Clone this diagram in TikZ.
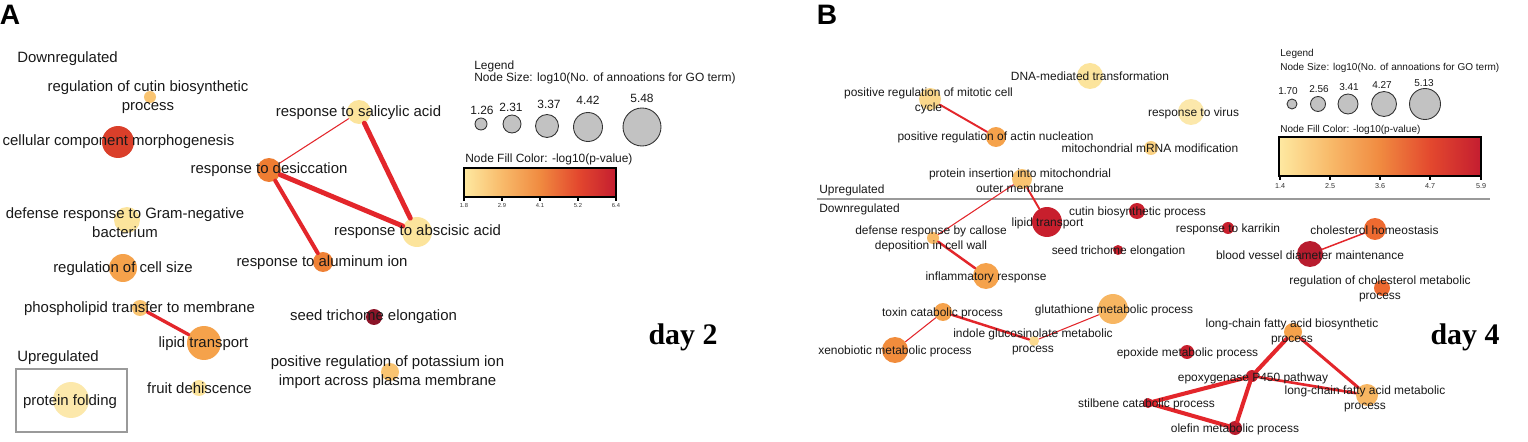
\documentclass[tikz,border=0pt]{standalone}
\usepackage{fontspec}
\newfontfamily\arialf{Liberation Sans}
\newfontfamily\seriff{Liberation Serif}
\newcommand\fontA{\arialf\fontsize{8.5}{10.8}\selectfont}
\newcommand\fontB{\arialf\fontsize{6.8}{8.5}\selectfont}
\newcommand\fontLA{\arialf\fontsize{6.8}{8}\selectfont}
\newcommand\fontLB{\arialf\fontsize{5.7}{7}\selectfont}
\newcommand\fontTA{\arialf\fontsize{3.3}{4}\selectfont}
\newcommand\fontTB{\arialf\fontsize{4.1}{5}\selectfont}
\definecolor{cyl}{HTML}{FCE49C}
\definecolor{clo}{HTML}{F9C471}
\definecolor{cor}{HTML}{F5A24B}
\definecolor{cdo}{HTML}{EE7D32}
\definecolor{crr}{HTML}{DA3F2A}
\definecolor{crd}{HTML}{C81F2D}
\definecolor{cdr}{HTML}{8B1428}
\definecolor{cbv}{HTML}{B81C2E}
\definecolor{cho}{HTML}{EE6A30}
\definecolor{cedge}{HTML}{E3262B}
\definecolor{cgrey}{HTML}{C2C2C2}
\definecolor{cframe}{HTML}{9A9A9A}
\definecolor{g0}{HTML}{FEE9A1}
\definecolor{g1}{HTML}{F8BA6A}
\definecolor{g2}{HTML}{F08A40}
\definecolor{g3}{HTML}{E3482E}
\definecolor{g4}{HTML}{C41D30}
\tikzset{
  gn/.style={circle, inner sep=0pt, draw=none},
  lgc/.style={circle, inner sep=0pt, draw=black!80, line width=0.5pt, fill=cgrey},
  lblA/.style={inner sep=0pt, font=\fontA, align=center, text=black!90},
  lblB/.style={inner sep=0pt, font=\fontB, align=center, text=black!90},
  legA/.style={inner sep=0pt, font=\fontLA, text=black!90},
  legB/.style={inner sep=0pt, font=\fontLB, text=black!90},
  tickA/.style={inner sep=0pt, font=\fontTA, text=black!80},
  tickB/.style={inner sep=0pt, font=\fontTB, text=black!80},
  edge/.style={draw=cedge, line cap=round},
  panel/.style={inner sep=0pt, font=\arialf\bfseries\fontsize{16}{18}\selectfont},
  daylbl/.style={inner sep=0pt, font=\seriff\bfseries\fontsize{17}{19}\selectfont},
  grp/.style={inner sep=0pt, font=\fontA, anchor=west, text=black!90},
  grpB/.style={inner sep=0pt, font=\fontB, anchor=west, text=black!90}
}
\begin{document}
\begin{tikzpicture}[x=0.02cm, y=-0.02cm]
\useasboundingbox (0,0) rectangle (1528,442);
\fill[white] (0,0) rectangle (1528,442);

% ================= Panel A =================
\node[panel] (A) at (10,15) {A};
\node[grp] (downA) at (17,59) {Downregulated};
\node[grp] (upA) at (17,358) {Upregulated};
\draw[cframe, line width=0.9pt] (16,369) rectangle (127,432);
\node[daylbl] (day2) at (683,337) {day 2};

% circles
\node[gn, fill=clo, minimum size=0.24cm] (a-cut) at (150,97) {};
\node[gn, fill=crr, minimum size=0.64cm] (a-ccm) at (118,142) {};
\node[gn, fill=cyl, minimum size=0.48cm] (a-sal) at (359,112) {};
\node[gn, fill=cdo, minimum size=0.48cm] (a-des) at (269,170) {};
\node[gn, fill=cyl, minimum size=0.60cm] (a-aba) at (417,232) {};
\node[gn, fill=cdo!90!cor, minimum size=0.40cm] (a-alu) at (323,262) {};
\node[gn, fill=cyl, minimum size=0.52cm] (a-gram) at (127,220) {};
\node[gn, fill=cor, minimum size=0.56cm] (a-size) at (123,268) {};
\node[gn, fill=clo, minimum size=0.32cm] (a-phos) at (140,308) {};
\node[gn, fill=cor, minimum size=0.68cm] (a-lip) at (204,343) {};
\node[gn, fill=cyl, minimum size=0.32cm] (a-fruit) at (199,388) {};
\node[gn, fill=cdr, minimum size=0.32cm] (a-seed) at (374,317) {};
\node[gn, fill=clo, minimum size=0.36cm] (a-pot) at (390,372) {};
\node[gn, fill=cyl!85!white, minimum size=0.72cm] (a-pf) at (71,400) {};

% edges
\draw[edge, line width=0.6pt] (a-sal) -- (a-des);
\draw[edge, line width=2.8pt] (a-sal) -- (a-aba);
\draw[edge, line width=2.8pt] (a-des) -- (a-aba);
\draw[edge, line width=2.3pt] (a-des) -- (a-alu);
\draw[edge, line width=1.9pt] (a-phos) -- (a-lip);

% labels
\node[lblA] (a-cut-t) at (148,97.5) {regulation of cutin biosynthetic\\process};
\node[lblA] (a-ccm-t) at (118.5,142) {cellular component morphogenesis};
\node[lblA] (a-sal-t) at (358.5,113) {response to salicylic acid};
\node[lblA] (a-des-t) at (269,170) {response to desiccation};
\node[lblA] (a-aba-t) at (417.5,232) {response to abscisic acid};
\node[lblA] (a-alu-t) at (322,263) {response to aluminum ion};
\node[lblA] (a-gram-t) at (125,223) {defense response to Gram-negative\\bacterium};
\node[lblA] (a-size-t) at (123,269) {regulation of cell size};
\node[lblA] (a-phos-t) at (139.5,309) {phospholipid transfer to membrane};
\node[lblA] (a-lip-t) at (203.5,344) {lipid transport};
\node[lblA] (a-fruit-t) at (199.5,388) {fruit dehiscence};
\node[lblA] (a-seed-t) at (373.5,317) {seed trichome elongation};
\node[lblA] (a-pot-t) at (387.5,372.5) {positive regulation of potassium ion\\import across plasma membrane};
\node[lblA] (a-pf-t) at (70,402) {protein folding};

% legend A
\node[legA, anchor=west] (a-leg) at (474,66) {Legend};
\node[legA, anchor=west] (a-legsz) at (474,78) {Node Size: log10(No. of annoations for GO term)};
\node[lgc, minimum size=0.24cm] (a-s1) at (481,124) {};
\node[lgc, minimum size=0.36cm] (a-s2) at (512,124) {};
\node[lgc, minimum size=0.46cm] (a-s3) at (547,126) {};
\node[lgc, minimum size=0.58cm] (a-s4) at (588,127) {};
\node[lgc, minimum size=0.76cm] (a-s5) at (642,127) {};
\node[legA] (a-s1-t) at (482,110) {1.26};
\node[legA] (a-s2-t) at (511,107) {2.31};
\node[legA] (a-s3-t) at (549,104) {3.37};
\node[legA] (a-s4-t) at (588,100) {4.42};
\node[legA] (a-s5-t) at (642,98) {5.48};
\node[legA, anchor=west] (a-legc) at (465,159) {Node Fill Color: -log10(p-value)};
\shade[left color=g0, right color=g1] (464,168) rectangle (502.2,197);
\shade[left color=g1, right color=g2] (502,168) rectangle (540.2,197);
\shade[left color=g2, right color=g3] (540,168) rectangle (578.2,197);
\shade[left color=g3, right color=g4] (578,168) rectangle (616,197);
\draw[black, line width=0.6pt] (464,168) rectangle (616,197);
\foreach \xx/\tt in {464/1.8, 502/2.9, 540/4.1, 578/5.2, 616/6.4}{
  \draw[black, line width=0.8pt] (\xx,197) -- (\xx,201);
  \node[tickA] at (\xx,206) {\tt};
}

% ================= Panel B =================
\node[panel] (B) at (827,15) {B};
\node[grpB] (upB) at (819,190) {Upregulated};
\draw[cframe, line width=0.9pt] (817,199) -- (1490,199);
\node[grpB] (downB) at (819,209) {Downregulated};
\node[daylbl] (day4) at (1465,337) {day 4};

% circles
\node[gn, fill=cyl, minimum size=0.52cm] (b-dna) at (1090,76) {};
\node[gn, fill=cyl!60!clo, minimum size=0.44cm] (b-mit) at (930,99) {};
\node[gn, fill=cor, minimum size=0.40cm] (b-act) at (996,137) {};
\node[gn, fill=cyl!40!clo, minimum size=0.28cm] (b-mrna) at (1151,148) {};
\node[gn, fill=cyl!85!white, minimum size=0.52cm] (b-vir) at (1191,112) {};
\node[gn, fill=clo, minimum size=0.40cm] (b-ins) at (1022,179) {};
\node[gn, fill=crd, minimum size=0.60cm] (b-lip) at (1047,222) {};
\node[gn, fill=crd, minimum size=0.32cm] (b-cut) at (1137,211) {};
\node[gn, fill=clo!70!cor, minimum size=0.24cm] (b-cal) at (933,238) {};
\node[gn, fill=cor, minimum size=0.52cm] (b-inf) at (986,276) {};
\node[gn, fill=cor, minimum size=0.36cm] (b-tox) at (943,312) {};
\node[gn, fill=cdo!60!cor, minimum size=0.52cm] (b-xen) at (895,350) {};
\node[gn, fill=cyl!70!clo, minimum size=0.20cm] (b-ind) at (1034,341) {};
\node[gn, fill=clo!60!cor, minimum size=0.60cm] (b-glu) at (1113,309) {};
\node[gn, fill=crd, minimum size=0.20cm] (b-seed) at (1118,250) {};
\node[gn, fill=crd, minimum size=0.24cm] (b-kar) at (1228,228) {};
\node[gn, fill=cho, minimum size=0.44cm] (b-chh) at (1375,229) {};
\node[gn, fill=cbv, minimum size=0.52cm] (b-bv) at (1310,254) {};
\node[gn, fill=cho, minimum size=0.32cm] (b-rch) at (1382,288) {};
\node[gn, fill=cor, minimum size=0.36cm] (b-lcb) at (1293,332) {};
\node[gn, fill=crd, minimum size=0.28cm] (b-epx) at (1187,352) {};
\node[gn, fill=crd, minimum size=0.24cm] (b-p450) at (1252,376) {};
\node[gn, fill=clo!60!cor, minimum size=0.44cm] (b-lcm) at (1367,395) {};
\node[gn, fill=crd, minimum size=0.20cm] (b-sti) at (1148,403) {};
\node[gn, fill=cbv, minimum size=0.28cm] (b-ole) at (1235,428) {};

% edges
\draw[edge, line width=1.1pt] (b-mit) -- (b-act);
\draw[edge, line width=1.1pt] (b-ins) -- (b-lip);
\draw[edge, line width=0.6pt] (b-ins) -- (b-cal);
\draw[edge, line width=1.4pt] (b-cal) -- (b-inf);
\draw[edge, line width=0.6pt] (b-tox) -- (b-xen);
\draw[edge, line width=1.4pt] (b-tox) -- (b-ind);
\draw[edge, line width=0.6pt] (b-ind) -- (b-glu);
\draw[edge, line width=0.85pt] (b-bv) -- (b-chh);
\draw[edge, line width=2.3pt] (b-lcb) -- (b-p450);
\draw[edge, line width=1.7pt] (b-lcb) -- (b-lcm);
\draw[edge, line width=1.5pt] (b-p450) -- (b-lcm);
\draw[edge, line width=2.3pt] (b-p450) -- (b-sti);
\draw[edge, line width=2.3pt] (b-p450) -- (b-ole);
\draw[edge, line width=2.3pt] (b-sti) -- (b-ole);

% labels
\node[lblB] (b-dna-t) at (1090,76) {DNA-mediated transformation};
\node[lblB] (b-mit-t) at (928.5,100.5) {positive regulation of mitotic cell\\cycle};
\node[lblB] (b-act-t) at (995.5,137) {positive regulation of actin nucleation};
\node[lblB] (b-mrna-t) at (1150,148) {mitochondrial mRNA modification};
\node[lblB] (b-vir-t) at (1193.5,113) {response to virus};
\node[lblB] (b-ins-t) at (1020,180.5) {protein insertion into mitochondrial\\outer membrane};
\node[lblB] (b-lip-t) at (1047.5,223) {lipid transport};
\node[lblB] (b-cut-t) at (1137.5,212) {cutin biosynthetic process};
\node[lblB] (b-cal-t) at (931,238.5) {defense response by callose\\deposition in cell wall};
\node[lblB] (b-inf-t) at (986,277) {inflammatory response};
\node[lblB] (b-tox-t) at (942.5,313) {toxin catabolic process};
\node[lblB] (b-xen-t) at (895,351) {xenobiotic metabolic process};
\node[lblB] (b-ind-t) at (1033,341.5) {indole glucosinolate metabolic\\process};
\node[lblB] (b-glu-t) at (1114,310) {glutathione metabolic process};
\node[lblB] (b-seed-t) at (1118.5,251) {seed trichome elongation};
\node[lblB] (b-kar-t) at (1228,229) {response to karrikin};
\node[lblB] (b-chh-t) at (1374.5,230) {cholesterol homeostasis};
\node[lblB] (b-bv-t) at (1310,255) {blood vessel diameter maintenance};
\node[lblB] (b-rch-t) at (1380,289) {regulation of cholesterol metabolic\\process};
\node[lblB] (b-lcb-t) at (1292,332) {long-chain fatty acid biosynthetic\\process};
\node[lblB] (b-epx-t) at (1187.5,353) {epoxide metabolic process};
\node[lblB] (b-p450-t) at (1253,378) {epoxygenase P450 pathway};
\node[lblB] (b-lcm-t) at (1365,399) {long-chain fatty acid metabolic\\process};
\node[lblB] (b-sti-t) at (1146.5,404) {stilbene catabolic process};
\node[lblB] (b-ole-t) at (1235,429) {olefin metabolic process};

% legend B
\node[legB, anchor=west] (b-leg) at (1280,54) {Legend};
\node[legB, anchor=west] (b-legsz) at (1280,68) {Node Size: log10(No. of annoations for GO term)};
\node[lgc, minimum size=0.20cm] (b-s1) at (1292,104) {};
\node[lgc, minimum size=0.30cm] (b-s2) at (1318,104) {};
\node[lgc, minimum size=0.40cm] (b-s3) at (1348,104) {};
\node[lgc, minimum size=0.50cm] (b-s4) at (1384,104) {};
\node[lgc, minimum size=0.62cm] (b-s5) at (1425,104) {};
\node[legB] (b-s1-t) at (1288,91) {1.70};
\node[legB] (b-s2-t) at (1319,89) {2.56};
\node[legB] (b-s3-t) at (1349,87) {3.41};
\node[legB] (b-s4-t) at (1382,85) {4.27};
\node[legB] (b-s5-t) at (1424,83) {5.13};
\node[legB, anchor=west] (b-legc) at (1280,130) {Node Fill Color: -log10(p-value)};
\shade[left color=g0, right color=g1] (1279,137) rectangle (1329.8,176);
\shade[left color=g1, right color=g2] (1329.5,137) rectangle (1380.3,176);
\shade[left color=g2, right color=g3] (1380,137) rectangle (1430.8,176);
\shade[left color=g3, right color=g4] (1430.5,137) rectangle (1481,176);
\draw[black, line width=0.6pt] (1279,137) rectangle (1481,176);
\foreach \xx/\tt in {1280/1.4, 1330/2.5, 1380/3.6, 1430/4.7, 1481/5.9}{
  \draw[black, line width=0.8pt] (\xx,176) -- (\xx,180);
  \node[tickB] at (\xx,186) {\tt};
}
\end{tikzpicture}
\end{document}
